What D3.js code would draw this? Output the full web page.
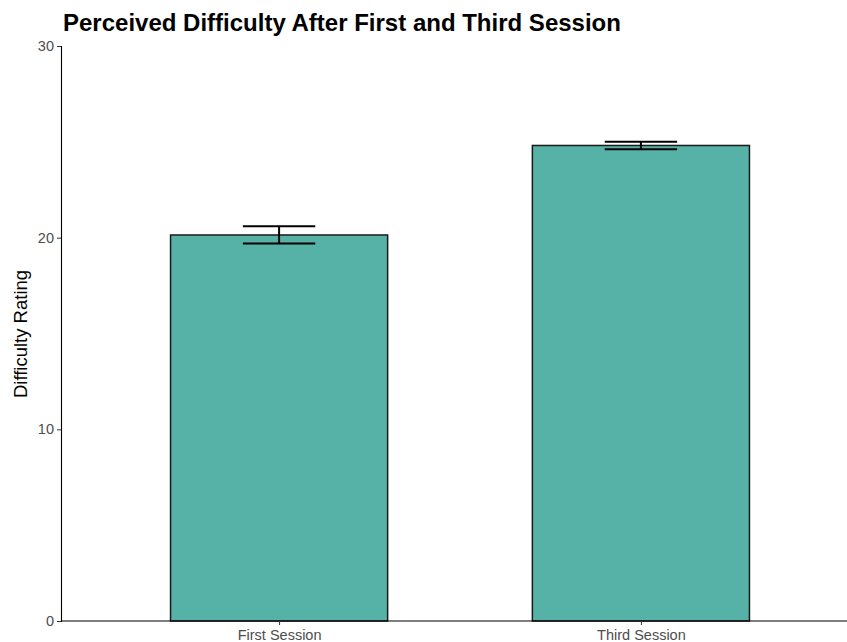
<!DOCTYPE html>
<html>
<head>
<meta charset="utf-8">
<script src="https://cdn.jsdelivr.net/npm/d3@7"></script>
<style>
  body { margin: 0; background: #fff; }
  svg { font-family: "Liberation Sans", Arial, sans-serif; display: block; }
</style>
</head>
<body>
<div id="chart"></div>
<script>
var sessions = ["First Session", "Third Session"];
var means = [20.14, 24.81];
var errors = [0.45, 0.2];
var yTicks = [0, 10, 20, 30];

function init() {
    var w = 847;
    var h = 642;

    var svg = d3.select("#chart")
        .append("svg")
        .attr("width", w)
        .attr("height", h);

    // discrete x positions, ggplot style expansion of 0.6 on each side
    var xScale = d3.scaleLinear()
        .domain([-0.6, sessions.length - 1 + 0.6])
        .range([62, 858]);

    var yScale = d3.scaleLinear()
        .domain([0, 30])
        .range([621, 46]);

    var barW = xScale(0.6) - xScale(0);
    var capW = xScale(0.2) - xScale(0);

    // Bars
    svg.selectAll("rect.bar")
        .data(means)
        .enter()
        .append("rect")
        .attr("class", "bar")
        .attr("x", function(d, i) { return xScale(i) - barW / 2; })
        .attr("y", function(d) { return yScale(d); })
        .attr("width", barW)
        .attr("height", function(d) { return yScale(0) - yScale(d); })
        .style("fill", "#56b1a6")
        .style("stroke", "#1a1a1a")
        .style("stroke-width", 1.5);

    // Error bars
    var eb = svg.selectAll("g.err")
        .data(means)
        .enter()
        .append("g")
        .attr("class", "err")
        .style("stroke", "#000")
        .style("stroke-width", 2);

    eb.append("line")
        .attr("x1", function(d, i) { return xScale(i); })
        .attr("x2", function(d, i) { return xScale(i); })
        .attr("y1", function(d, i) { return yScale(d + errors[i]); })
        .attr("y2", function(d, i) { return yScale(d - errors[i]); });
    eb.append("line")
        .attr("x1", function(d, i) { return xScale(i) - capW / 2; })
        .attr("x2", function(d, i) { return xScale(i) + capW / 2; })
        .attr("y1", function(d, i) { return yScale(d + errors[i]); })
        .attr("y2", function(d, i) { return yScale(d + errors[i]); });
    eb.append("line")
        .attr("x1", function(d, i) { return xScale(i) - capW / 2; })
        .attr("x2", function(d, i) { return xScale(i) + capW / 2; })
        .attr("y1", function(d, i) { return yScale(d - errors[i]); })
        .attr("y2", function(d, i) { return yScale(d - errors[i]); });

    // Y axis
    var yAxis = d3.axisLeft(yScale).tickValues(yTicks).tickSize(4).tickPadding(3);
    var gy = svg.append("g")
        .attr("transform", "translate(61, 0)")
        .call(yAxis);
    gy.select(".domain").attr("stroke", "#000").attr("stroke-width", 1.1);
    gy.selectAll(".tick line").attr("stroke", "#333");
    gy.selectAll(".tick text").attr("fill", "#4d4d4d").style("font-size", "14.5px");

    // X axis
    var xAxis = d3.axisBottom(xScale)
        .tickValues(d3.range(sessions.length))
        .tickFormat(function(i) { return sessions[i]; })
        .tickSize(4).tickPadding(5);
    var gx = svg.append("g")
        .attr("transform", "translate(0, 621)")
        .call(xAxis);
    gx.select(".domain").attr("d", "M61,0H847").attr("stroke", "#000").attr("stroke-width", 1.1);
    gx.selectAll(".tick line").attr("stroke", "#333");
    gx.selectAll(".tick text").attr("fill", "#4d4d4d").style("font-size", "14.5px");

    // Axis title
    svg.append("text")
        .attr("transform", "translate(27, 334) rotate(-90)")
        .attr("text-anchor", "middle")
        .style("font-size", "18.5px")
        .text("Difficulty Rating");

    // Title
    svg.append("text")
        .attr("x", 63)
        .attr("y", 31)
        .style("font-size", "24px")
        .style("font-weight", "bold")
        .text("Perceived Difficulty After First and Third Session");
}

window.onload = init;
</script>
</body>
</html>
